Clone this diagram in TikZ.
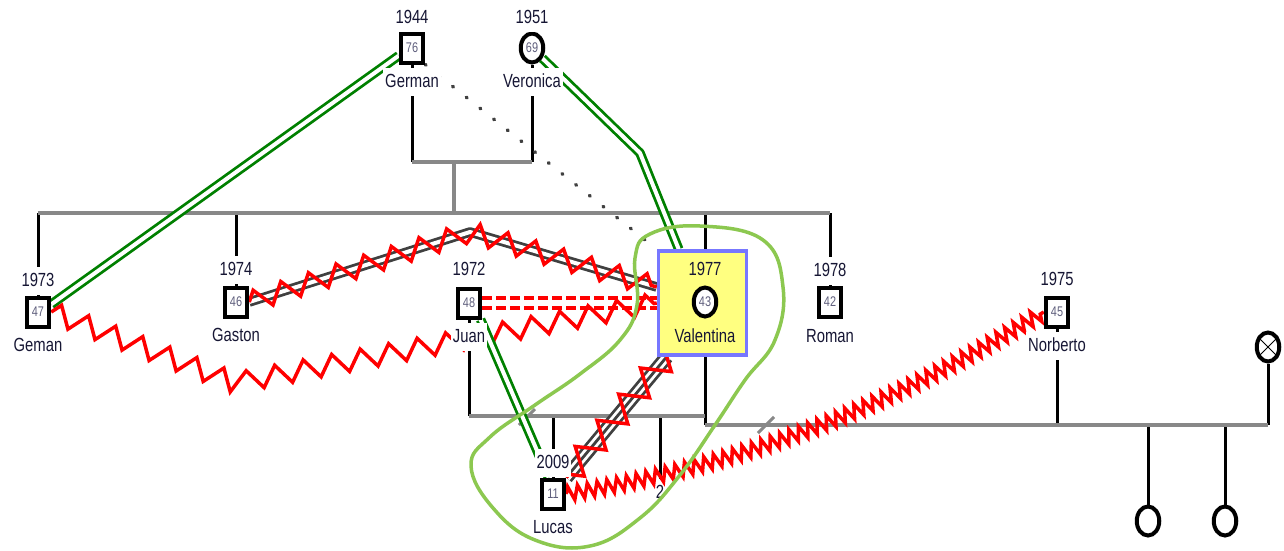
\documentclass[tikz,border=0pt]{standalone}
\usepackage{fontspec}
\usetikzlibrary{shapes.geometric, decorations.pathmorphing}
\newfontfamily\narrowsans[FakeStretch=0.78]{Liberation Sans}
\newcommand{\namefont}{\narrowsans\fontsize{19}{21}\selectfont}
\newcommand{\agefont}{\narrowsans\fontsize{14}{15}\selectfont}
\definecolor{lblcol}{RGB}{22,22,52}
\definecolor{agecol}{RGB}{95,95,125}
\definecolor{famgray}{HTML}{888888}
\definecolor{bondgray}{HTML}{404040}
\definecolor{tiegreen}{HTML}{008000}
\definecolor{ringgreen}{HTML}{8CC850}
\definecolor{boxyellow}{HTML}{FFFF80}
\definecolor{boxblue}{HTML}{7777FF}
\pgfdeclarelayer{kinlayer}
\pgfdeclarelayer{tielayer}
\pgfdeclarelayer{marklayer}
\pgfsetlayers{kinlayer,tielayer,main,marklayer}

\begin{document}
\begin{tikzpicture}[x=1pt, y=-1pt,
    male/.style={draw=black, rectangle, line width=4pt, fill=white, minimum width=22.5pt, minimum height=29pt, inner sep=0pt, font=\agefont, text=agecol},
    female/.style={male, ellipse},
    tag/.style={fill=white, inner xsep=2pt, inner ysep=6pt, text height=13.5pt, text depth=3pt, font=\namefont, text=lblcol},
    valebox/.style={draw=boxblue, fill=boxyellow, line width=3.5pt, minimum width=88pt, minimum height=104pt},
    kin/.style={draw=black, line width=3pt},
    fam/.style={draw=famgray, line width=4pt},
    tie/.style={draw=tiegreen, line width=2.8pt, double=white, double distance=4pt},
    bond/.style={draw=bondgray, line width=2.8pt, double=white, double distance=4pt},
    feud/.style={draw=red, line width=3.5pt, decorate, decoration={zigzag, amplitude=10pt, segment length=29pt}},
    hint/.style={draw=bondgray, line width=3.5pt, dash pattern=on 1pt off 16.5pt, line cap=round},
    rift/.style={draw=red, line width=3.5pt, dash pattern=on 10pt off 4pt},
    ring/.style={draw=ringgreen, line width=3.5pt}
]
\useasboundingbox (0,0) rectangle (1284,550);
\begin{pgfonlayer}{kinlayer}
\fill[white] (0,0) rectangle (1284,550);
\end{pgfonlayer}

\node[male] (gerA) at (412,48) {76};
\node[tag] (gerAy) at (412,18) {1944};
\node[tag] (gerAn) at (412,82) {German};
\node[female] (vero) at (532,48) {69};
\node[tag] (veroy) at (532,18) {1951};
\node[tag] (veron) at (532,82) {Veronica};

\node[male] (gerB) at (38,312) {47};
\node[tag] (gerBy) at (38,281) {1973};
\node[tag] (gerBn) at (38,346) {Geman};
\node[male] (gaston) at (236,302) {46};
\node[tag] (gastony) at (236,270) {1974};
\node[tag] (gastonn) at (236,336) {Gaston};
\node[male] (juan) at (469,303) {48};
\node[tag] (juany) at (469,270) {1972};
\node[tag] (juann) at (469,337) {Juan};
\node[valebox] (vale) at (702.5,303) {};
\node[female] (valeC) at (705,302) {43};
\node[tag, fill=none] (valey) at (705,270) {1977};
\node[tag, fill=none] (valen) at (705,337) {Valentina};
\node[male] (roman) at (830,302) {42};
\node[tag] (romany) at (830,271) {1978};
\node[tag] (romann) at (830,337) {Roman};
\node[male] (norb) at (1057,312) {45};
\node[tag] (norby) at (1057,280) {1975};
\node[tag] (norbn) at (1057,346) {Norberto};
\node[female] (xdead) at (1268,347) {};
\draw[line width=1pt] (xdead.45) -- (xdead.225) (xdead.135) -- (xdead.315);
\node[female] (kidA) at (1148,521) {};
\node[female] (kidB) at (1225,521) {};

\node[male] (lucas) at (553,494) {11};
\node[tag] (lucasy) at (553,463) {2009};
\node[tag] (lucasn) at (553,528) {Lucas};

\coordinate (parrow) at (0,162);
\coordinate (sibrow) at (0,213);
\coordinate (jvrow) at (0,416);
\coordinate (vnrow) at (0,425);
\coordinate (parmid) at (454,162);
\coordinate (vbend) at (640,153);
\coordinate (gpeak) at (470,232);
\coordinate (gdip) at (235,383);

\begin{pgfonlayer}{kinlayer}
\node[tag, fill=none] (kid2) at (660,493) {2};
\draw[kin] (gerA) -- (gerA |- parrow);
\draw[kin] (vero) -- (vero |- parrow);
\draw[fam] (gerA |- parrow) -- (vero |- parrow);
\draw[fam] (parmid) -- (parmid |- sibrow);
\foreach \k in {gerB, gaston, valeC, roman}
    \draw[kin] (\k |- sibrow) -- (\k);
\draw[fam] (gerB |- sibrow) -- (roman |- sibrow);
\draw[kin] (juan) -- (juan |- jvrow);
\draw[kin] (valeC) -- (valeC |- vnrow);
\draw[kin] (lucas |- jvrow) -- (lucas);
\draw[kin] (kid2 |- jvrow) -- (kid2.north);
\draw[kin] (norb) -- (norb |- vnrow);
\draw[kin] (xdead) -- (xdead |- vnrow);
\draw[kin] (kidA |- vnrow) -- (kidA);
\draw[kin] (kidB |- vnrow) -- (kidB);
\draw[fam] (juan |- jvrow) -- (valeC |- jvrow);
\draw[fam] (valeC |- vnrow) -- (xdead |- vnrow);
\draw[fam, line width=3pt] (519,425) -- (535,409);
\draw[fam, line width=3pt] (758,433) -- (774,417);
\end{pgfonlayer}

\begin{pgfonlayer}{tielayer}
\draw[tie] (gerB.30) -- (gerA.210);
\draw[tie, line join=round] (vero.-45) -- (vbend) -- ([xshift=22pt]vale.north west);
\draw[hint] (gerA.south east) -- (vale.north west);
\draw[bond, line join=round] (gaston.east) -- (gpeak) -- ([yshift=16pt]vale.west);
\draw[feud] (gaston.east) -- (gpeak) -- ([yshift=16pt]vale.west);
\draw[feud] (gerB.east) -- (gdip) -- (vale.west);
\draw[rift] ([yshift=5pt]juan.east) -- ([yshift=5pt]juan.east -| vale.west);
\draw[rift] ([yshift=-5pt]juan.east) -- ([yshift=-5pt]juan.east -| vale.west);
\draw[tie] (juan.-55) -- (lucas.105);
\draw[bond, double distance=8.5pt] ([xshift=10pt]vale.south west) -- (lucas.north east);
\draw[draw=bondgray, line width=2.8pt] ([xshift=10pt]vale.south west) -- (lucas.north east);
\draw[feud, decoration={amplitude=13pt, segment length=34pt}] ([xshift=10pt]vale.south west) -- (lucas.north east);
\draw[feud, decoration={amplitude=7pt, segment length=10pt}] (lucas.east) .. controls (760,462) and (900,400) .. (norb.west);
\end{pgfonlayer}

\begin{pgfonlayer}{marklayer}
\draw[ring] plot[smooth cycle, tension=0.7] coordinates {(635,258) (650,234) (700,226) (763,240) (783,287) (775,340) (745,380) (715,425) (680,475) (640,518) (590,546) (535,540) (493,508) (471,466) (490,437) (535,405) (580,374) (620,340) (637,305)};
\end{pgfonlayer}
\end{tikzpicture}
\end{document}
